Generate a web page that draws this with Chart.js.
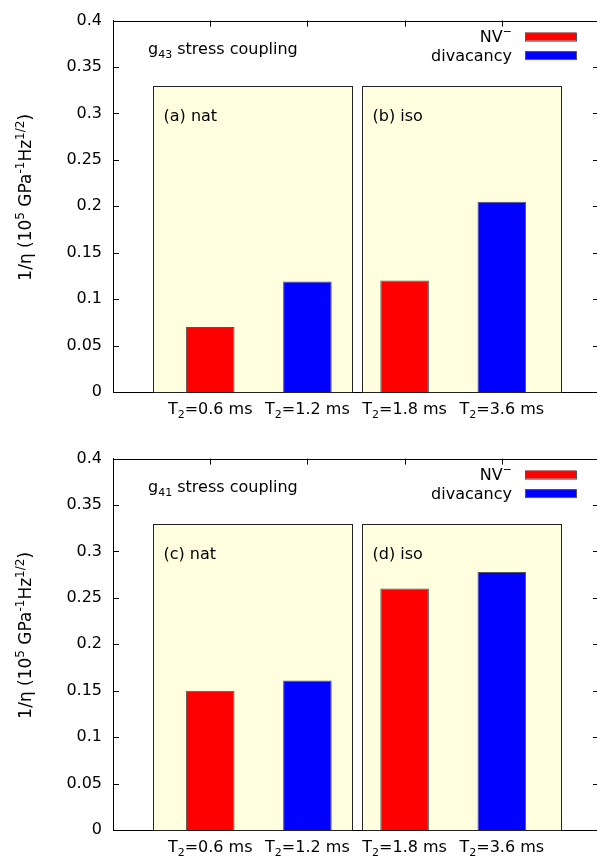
<!DOCTYPE html>
<html>
<head>
<meta charset="utf-8">
<script src="https://cdn.jsdelivr.net/npm/chart.js@4.4.1/dist/chart.umd.min.js"></script>
<style>
html, body { margin: 0; padding: 0; background: #fff; overflow: hidden; }
#wrap { position: relative; width: 597px; height: 858px; overflow: hidden; }
canvas { position: absolute; left: 0; }
</style>
</head>
<body>
<div id="wrap">
  <canvas id="chartTop" width="600" height="420" style="top:0px"></canvas>
  <canvas id="chartBottom" width="600" height="420" style="top:438px"></canvas>
</div>
<script>
// data
var categories = ['T₂=0.6 ms', 'T₂=1.2 ms', 'T₂=1.8 ms', 'T₂=3.6 ms'];
var xPositions = [1, 2, 3, 4];
var yTickValues = [0, 0.05, 0.1, 0.15, 0.2, 0.25, 0.3, 0.35, 0.4];
var nvG43 = [0.070, null, 0.120, null];
var divG43 = [null, 0.119, null, 0.205];
var nvG41 = [0.150, null, 0.260, null];
var divG41 = [null, 0.161, null, 0.278];

Chart.defaults.font.family = 'DejaVu Sans';
Chart.defaults.font.size = 16;
Chart.defaults.color = '#000';

var FONT = '16px "DejaVu Sans"';
var SMALL = '11px "DejaVu Sans"';

// draws text made of [text, kind] pieces, kind 0 = normal, 1 = superscript, -1 = subscript
function richText(ctx, segs, x, y, align, big, small) {
    big = big || FONT;
    small = small || SMALL;
    var widths = segs.map(function (s) {
        ctx.font = s[1] === 0 ? big : small;
        return ctx.measureText(s[0]).width;
    });
    var total = widths.reduce(function (a, b) { return a + b; }, 0);
    var cx = align === 'right' ? x - total : (align === 'center' ? x - total / 2 : x);
    ctx.textAlign = 'left';
    ctx.textBaseline = 'alphabetic';
    segs.forEach(function (s, i) {
        ctx.font = s[1] === 0 ? big : small;
        var dy = s[1] === 1 ? -7 : (s[1] === -1 ? 4 : 0);
        ctx.fillText(s[0], cx, y + dy);
        cx += widths[i];
    });
}

// 'T₂=0.6 ms' -> pieces with a real subscript
function labelSegs(text) {
    var parts = text.split('₂');
    return [[parts[0], 0], ['2', -1], [parts[1], 0]];
}

function toPoints(values) {
    return values.map(function (v, i) {
        return v === null ? null : { x: xPositions[i], y: v };
    }).filter(function (p) { return p !== null; });
}

var decorPlugin = {
    id: 'decor',
    beforeDatasetsDraw: function (chart, args, opts) {
        var ctx = chart.ctx;
        var a = chart.chartArea;
        var xs = chart.scales.x, ys = chart.scales.y;
        ctx.save();
        ctx.strokeStyle = '#000';
        ctx.lineWidth = 1;
        // inward ticks on all four sides
        ctx.beginPath();
        yTickValues.forEach(function (v) {
            var py = Math.round(ys.getPixelForValue(v)) + 0.5;
            ctx.moveTo(a.left, py); ctx.lineTo(a.left + 6, py);
            ctx.moveTo(a.right, py); ctx.lineTo(a.right - 6, py);
        });
        xPositions.forEach(function (v) {
            var px = Math.round(xs.getPixelForValue(v)) + 0.5;
            ctx.moveTo(px, a.top); ctx.lineTo(px, a.top + 6);
            ctx.moveTo(px, a.bottom); ctx.lineTo(px, a.bottom - 6);
        });
        ctx.stroke();
        // frame (top and right)
        ctx.beginPath();
        ctx.moveTo(a.left, Math.round(a.top) + 0.5);
        ctx.lineTo(a.right, Math.round(a.top) + 0.5);
        ctx.moveTo(Math.round(a.right) - 0.5, a.top);
        ctx.lineTo(Math.round(a.right) - 0.5, a.bottom);
        ctx.stroke();

        // x tick labels with subscripts, placed by the x scale
        ctx.fillStyle = '#000';
        xPositions.forEach(function (v, i) {
            richText(ctx, labelSegs(categories[i]), xs.getPixelForValue(v), a.bottom + 22, 'center');
        });

        // shaded panels
        opts.panels.forEach(function (p) {
            var x0 = Math.round(xs.getPixelForValue(p.from)) + 0.5;
            var x1 = Math.round(xs.getPixelForValue(p.to)) + 0.5;
            var y0 = Math.round(ys.getPixelForValue(p.height)) + 0.5;
            var y1 = Math.round(ys.getPixelForValue(0)) + 0.5;
            ctx.fillStyle = '#ffffe0';
            ctx.fillRect(x0, y0, x1 - x0, y1 - y0);
            ctx.strokeStyle = '#222';
            ctx.strokeRect(x0, y0, x1 - x0, y1 - y0);
            ctx.fillStyle = '#000';
            richText(ctx, [[p.label, 0]], x0 + 10, a.top + 100.5, 'left');
        });

        ctx.fillStyle = '#000';
        richText(ctx, opts.title, a.left + 35, a.top + 33.5, 'left');

        // legend
        opts.legend.forEach(function (item, i) {
            var ds = chart.data.datasets[item.dataset];
            var cy = a.top + 16 + i * 18.5;
            ctx.fillStyle = '#000';
            richText(ctx, item.text, a.right - 87, cy + 5.5, 'right');
            ctx.fillStyle = ds.backgroundColor;
            ctx.fillRect(a.right - 74, cy - 4, 51, 8);
            ctx.strokeStyle = '#555';
            ctx.strokeRect(a.right - 74 + 0.5, cy - 4 + 0.5, 51, 8);
        });

        // y axis title, rotated
        ctx.save();
        ctx.translate(31, (a.top + a.bottom) / 2 - 9);
        ctx.rotate(-Math.PI / 2);
        ctx.fillStyle = '#000';
        richText(ctx, [['1/η (10', 0], ['5', 1], [' GPa', 0], ['-1', 1], ['Hz', 0], ['1/2', 1], [')', 0]], 0, 0, 'center',
            '17px "DejaVu Sans"', '12px "DejaVu Sans"');
        ctx.restore();

        ctx.restore();
    }
};

function makeChart(id, nv, div, titleSegs, labels) {
    var ctx = document.getElementById(id).getContext('2d');
    return new Chart(ctx, {
        type: 'bar',
        data: {
            datasets: [{
                label: 'NV−',
                data: toPoints(nv),
                backgroundColor: '#ff0000',
                borderColor: '#555',
                borderWidth: 1
            },
            {
                label: 'divacancy',
                data: toPoints(div),
                backgroundColor: '#0000ff',
                borderColor: '#555',
                borderWidth: 1
            }]
        },
        options: {
            responsive: false,
            animation: false,
            layout: { padding: { top: 16, right: 1, left: 0, bottom: 0 } },
            datasets: {
                bar: { grouped: false, barPercentage: 0.5, categoryPercentage: 1.0 }
            },
            scales: {
                x: {
                    type: 'linear',
                    offset: false,
                    min: 0,
                    max: 5,
                    grid: { display: false, drawTicks: false },
                    border: { display: true, color: '#000', width: 1 },
                    afterBuildTicks: function (scale) {
                        scale.ticks = xPositions.map(function (v) { return { value: v }; });
                    },
                    afterFit: function (scale) { scale.height = 28; },
                    ticks: { display: false }
                },
                y: {
                    min: 0,
                    max: 0.4,
                    grid: { display: false, drawTicks: false },
                    border: { display: true, color: '#000', width: 1 },
                    afterBuildTicks: function (scale) {
                        scale.ticks = yTickValues.map(function (v) { return { value: v }; });
                    },
                    afterFit: function (scale) { scale.width = 113; },
                    ticks: {
                        padding: 11,
                        callback: function (value) { return String(value); }
                    }
                }
            },
            plugins: {
                legend: { display: false },
                tooltip: { enabled: false },
                decor: {
                    title: titleSegs,
                    panels: [
                        { from: 0.41, to: 2.46, height: 0.33, label: labels[0] },
                        { from: 2.56, to: 4.61, height: 0.33, label: labels[1] }
                    ],
                    legend: [
                        { dataset: 0, text: [['NV', 0], ['−', 1]] },
                        { dataset: 1, text: [['divacancy', 0]] }
                    ]
                }
            }
        },
        plugins: [decorPlugin]
    });
}

makeChart('chartTop', nvG43, divG43, [['g', 0], ['43', -1], [' stress coupling', 0]], ['(a) nat', '(b) iso']);
makeChart('chartBottom', nvG41, divG41, [['g', 0], ['41', -1], [' stress coupling', 0]], ['(c) nat', '(d) iso']);
</script>
</body>
</html>
